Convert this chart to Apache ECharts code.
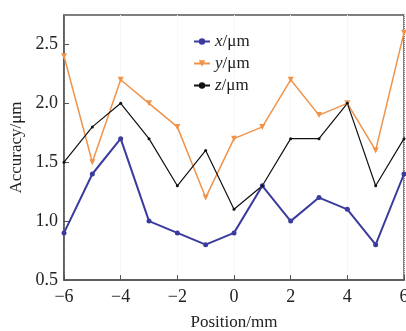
<!DOCTYPE html>
<html>
<head>
<meta charset="utf-8">
<script src="https://cdn.jsdelivr.net/npm/echarts@6/dist/echarts.min.js"></script>
<style>
  html, body { margin: 0; padding: 0; background: #fff; }
  #chart { width: 406px; height: 331px; }
</style>
</head>
<body>
<div id="chart"></div>
<script>
// 位置 (mm)
const positions = [-6, -5, -4, -3, -2, -1, 0, 1, 2, 3, 4, 5, 6];
// 各方向精度 (μm)
const xValues = [0.9, 1.4, 1.7, 1.0, 0.9, 0.8, 0.9, 1.3, 1.0, 1.2, 1.1, 0.8, 1.4];
const yValues = [2.4, 1.5, 2.2, 2.0, 1.8, 1.2, 1.7, 1.8, 2.2, 1.9, 2.0, 1.6, 2.6];
const zValues = [1.5, 1.8, 2.0, 1.7, 1.3, 1.6, 1.1, 1.3, 1.7, 1.7, 2.0, 1.3, 1.7];
const legendNames = ['x', 'y', 'z'];

const chart = echarts.init(document.getElementById('chart'));
const serif = '"Liberation Serif", "DejaVu Serif", serif';

const toPairs = vals => positions.map((p, i) => [p, vals[i]]);

const option = {
  animation: false,
  textStyle: { fontFamily: serif },
  grid: {
    left: 64, right: 2, top: 15, bottom: 51,
    outerBoundsMode: 'none',
    containLabel: false,
    show: true, borderColor: '#555', borderWidth: 1.5
  },
  legend: {
    orient: 'vertical',
    left: 188, top: 28,
    itemGap: 5,
    itemWidth: 16, itemHeight: 8,
    data: legendNames,
    formatter: name => '{i|' + name + '}/μm',
    textStyle: {
      fontFamily: serif, fontSize: 17, color: '#222',
      rich: { i: { fontStyle: 'italic', fontFamily: serif, fontSize: 17, color: '#222' } }
    }
  },
  xAxis: {
    type: 'value',
    min: -6, max: 6, interval: 2,
    name: 'Position/mm',
    nameLocation: 'middle',
    nameGap: 34,
    nameTextStyle: { fontFamily: serif, fontSize: 17, color: '#222' },
    axisLine: { onZero: false, lineStyle: { color: '#555', width: 1.5 } },
    axisTick: { inside: true, length: 5, lineStyle: { color: '#555' } },
    axisLabel: {
      fontFamily: serif, fontSize: 18, color: '#222', margin: 8,
      formatter: v => (v < 0 ? '\u2212' + Math.abs(v) : String(v))
    },
    splitLine: { show: true, lineStyle: { color: '#f0f0f0', type: 'dotted' } }
  },
  yAxis: {
    type: 'value',
    min: 0.5, max: 2.75, interval: 0.5,
    name: 'Accuracy/μm',
    nameLocation: 'middle',
    nameGap: 38,
    nameTextStyle: { fontFamily: serif, fontSize: 17, color: '#222' },
    axisLine: { show: true, onZero: false, lineStyle: { color: '#555', width: 1.5 } },
    axisTick: { inside: true, length: 5, lineStyle: { color: '#555' } },
    axisLabel: {
      fontFamily: serif, fontSize: 18, color: '#222', margin: 6,
      showMaxLabel: false,
      formatter: v => v.toFixed(1)
    },
    splitLine: { show: false }
  },
  series: [
    {
      name: 'x', type: 'line', data: toPairs(xValues),
      symbol: 'circle', symbolSize: 5,
      lineStyle: { color: '#3b3b9e', width: 2 },
      itemStyle: { color: '#3b3b9e' }
    },
    {
      name: 'y', type: 'line', data: toPairs(yValues),
      symbol: 'triangle', symbolRotate: 180, symbolSize: 6,
      lineStyle: { color: '#f0934a', width: 1.5 },
      itemStyle: { color: '#f0934a' }
    },
    {
      name: 'z', type: 'line', data: toPairs(zValues),
      symbol: 'circle', symbolSize: 3,
      lineStyle: { color: '#111', width: 1.2 },
      itemStyle: { color: '#111' }
    }
  ]
};

chart.setOption(option);
</script>
</body>
</html>
